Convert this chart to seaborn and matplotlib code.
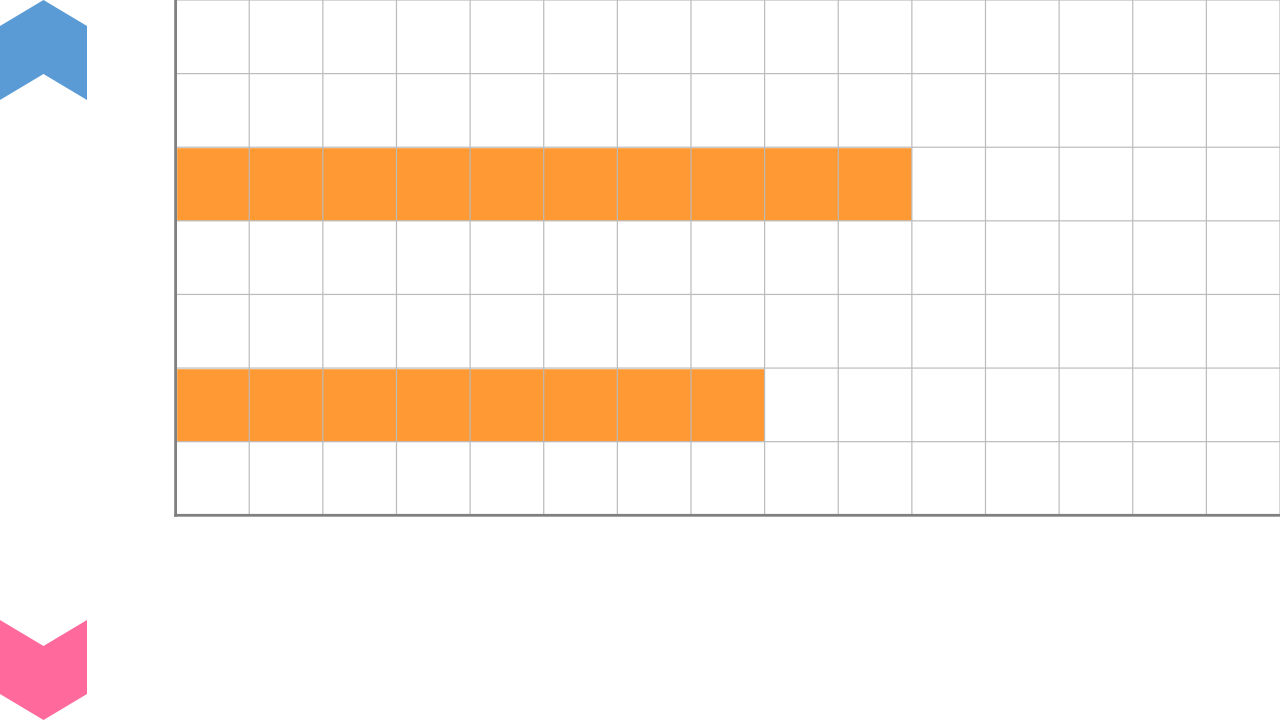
import matplotlib
matplotlib.use('Agg')
import matplotlib.pyplot as plt
from matplotlib.patches import Polygon
from matplotlib.transforms import Affine2D
import pandas as pd
import seaborn as sns

# the reference shows no labels, so rows are just numbered
categories = ['1', '2', '3', '4', '5', '6', '7']
values = [0, 0, 10, 0, 0, 8, 0]

W, H = 1280, 720
left, bottom = 175.6, 515.3

df = pd.DataFrame({'category': categories, 'value': values})

sns.set_theme(style='white')
fig = plt.figure(figsize=(W / 100, H / 100), dpi=100)
ax = fig.add_axes([left / W, (H - bottom) / H, (W - left) / W, bottom / H])

sns.barplot(data=df, y='category', x='value', color='#ff9933', saturation=1,
            width=1, ax=ax)

ax.set_xlim(0, 15)
ax.set_ylim(6.5, -0.5)
ax.set_xticks(range(1, 16))
ax.set_yticks([i - 0.5 for i in range(0, 8)])
ax.set_axisbelow(False)
ax.grid(True, color='#bbbbbb', linewidth=0.85)
ax.tick_params(left=False, bottom=False, labelleft=False, labelbottom=False)
ax.set_xlabel('')
ax.set_ylabel('')

# grid lines in the reference are antialiased, not pixel snapped
for line in ax.get_xgridlines() + ax.get_ygridlines():
    line.set_snap(False)

sns.despine(ax=ax)
for side in ['left', 'bottom']:
    ax.spines[side].set_color('#808080')
    ax.spines[side].set_linewidth(2.0)
    ax.spines[side].set_snap(False)
    ax.spines[side].set_zorder(5)

# chevrons at the left, in pixels from the top left corner
to_pixels = Affine2D().scale(1, -1).translate(0, H)
blue = [(0, 26), (43.5, 0), (87, 26), (87, 100), (43.5, 74), (0, 100)]
pink = [(0, 620), (43.5, 646), (87, 620), (87, 694), (43.5, 720), (0, 694)]
fig.add_artist(Polygon(blue, closed=True, facecolor='#5b9bd5', edgecolor='none', transform=to_pixels))
fig.add_artist(Polygon(pink, closed=True, facecolor='#ff699c', edgecolor='none', transform=to_pixels))

fig.savefig('out.png', dpi=100)
